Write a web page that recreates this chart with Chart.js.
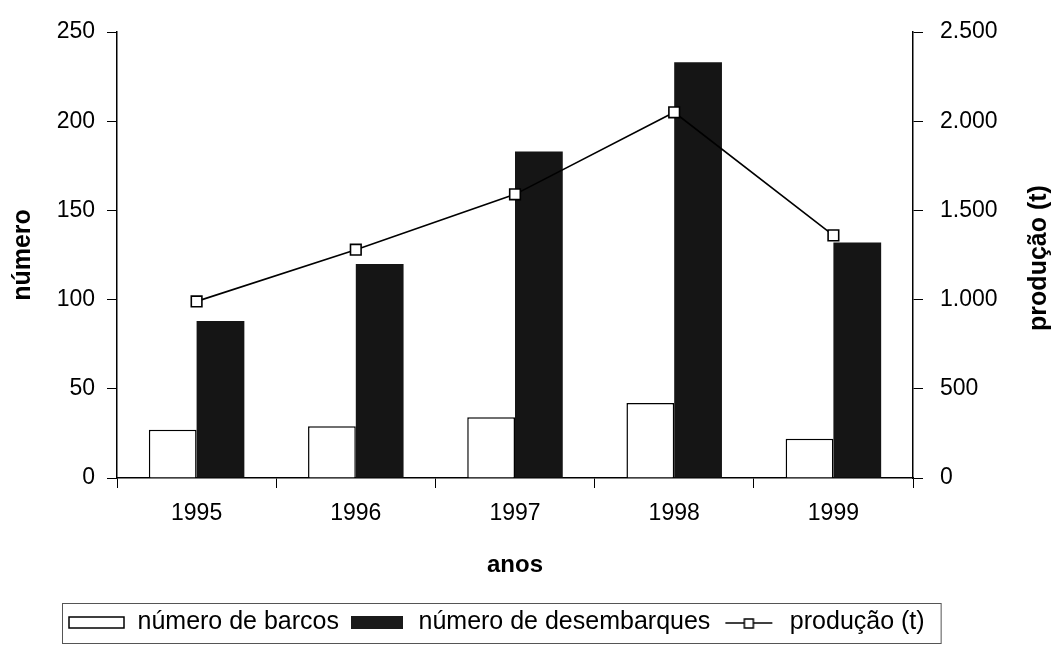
<!DOCTYPE html>
<html>
<head>
<meta charset="utf-8">
<script src="https://cdn.jsdelivr.net/npm/chart.js"></script>
<style>
  html, body { margin: 0; padding: 0; background: #fff; }
  #wrap { width: 1051px; height: 653px; }
</style>
</head>
<body>
<div id="wrap"><canvas id="c" width="1051" height="653"></canvas></div>
<script>
// dados
const anos = ['1995', '1996', '1997', '1998', '1999'];
const barcos = [27, 29, 34, 42, 22];
const desembarques = [88, 120, 183, 233, 132];
const producao = [990, 1280, 1590, 2050, 1360];

const FONT = 'Arial, "Liberation Sans", sans-serif';

// pequenos ícones para a legenda
function legendIcon(kind) {
    const cv = document.createElement('canvas');
    cv.width = 57; cv.height = 20;
    const g = cv.getContext('2d');
    g.lineWidth = 1.5;
    g.strokeStyle = '#000';
    if (kind === 'white') {
        g.fillStyle = '#fff';
        g.fillRect(1, 5, 55, 11);
        g.strokeRect(1, 5, 55, 11);
    } else if (kind === 'dark') {
        g.fillStyle = '#1a1a1a';
        g.fillRect(2, 4, 52, 13);
    } else {
        g.beginPath();
        g.moveTo(5, 11); g.lineTo(52, 11);
        g.stroke();
        g.fillStyle = '#fff';
        g.fillRect(24, 7, 9, 9);
        g.strokeRect(24, 7, 9, 9);
    }
    return cv;
}

// legenda deslocada para a esquerda + moldura + título do eixo direito (lido de baixo para cima)
const extras = {
    id: 'extras',
    afterLayout(chart) {
        const lg = chart.legend;
        if (!lg || !lg.lineWidths) return;
        const pad = lg.options.labels.padding;
        const start = (lg.left + pad + lg.right - lg.lineWidths[0]) / 2;
        const shift = 68 - start;
        lg.left += shift;
        lg.right += shift;
    },
    afterDraw(chart) {
        const ctx = chart.ctx;
        const boxes = chart.legend.legendHitBoxes;
        if (boxes && boxes.length) {
            let x0 = Infinity, x1 = -Infinity;
            boxes.forEach(b => {
                x0 = Math.min(x0, b.left); x1 = Math.max(x1, b.left + b.width);
            });
            ctx.save();
            ctx.strokeStyle = '#555';
            ctx.lineWidth = 1;
            ctx.strokeRect(x0 - 5.5, 603.5, (x1 - x0) + 22, 40);
            ctx.restore();
        }
        const area = chart.chartArea;
        ctx.save();
        ctx.translate(1039, (area.top + area.bottom) / 2 + 3);
        ctx.rotate(-Math.PI / 2);
        ctx.font = 'bold 25px ' + FONT;
        ctx.fillStyle = '#000';
        ctx.textAlign = 'center';
        ctx.textBaseline = 'middle';
        ctx.fillText('produção (t)', 0, 0);
        ctx.restore();
    }
};

const fmt = v => v.toString().replace(/\B(?=(\d{3})+(?!\d))/g, '.');

new Chart(document.getElementById('c'), {
    data: {
        labels: anos,
        datasets: [
            {
                type: 'line',
                label: 'produção (t)',
                data: producao,
                yAxisID: 'y1',
                borderColor: '#000',
                borderWidth: 1.6,
                pointStyle: 'rect',
                pointRadius: 7.5,
                pointBackgroundColor: '#fff',
                pointBorderColor: '#000',
                pointBorderWidth: 1.6,
                tension: 0,
                order: 0
            },
            {
                type: 'bar',
                label: 'número de barcos',
                data: barcos,
                yAxisID: 'y',
                backgroundColor: '#fff',
                borderColor: '#000',
                borderWidth: 1.5,
                categoryPercentage: 0.6,
                barPercentage: 1.0,
                order: 1
            },
            {
                type: 'bar',
                label: 'número de desembarques',
                data: desembarques,
                yAxisID: 'y',
                backgroundColor: '#151515',
                borderWidth: 0,
                categoryPercentage: 0.6,
                barPercentage: 1.0,
                order: 1
            }
        ]
    },
    options: {
        responsive: false,
        animation: false,
        layout: { padding: { top: 32, left: 4, right: 0, bottom: 8.5 } },
        plugins: {
            tooltip: { enabled: false },
            legend: {
                position: 'bottom',
                labels: {
                    color: '#000',
                    font: { family: FONT, size: 25 },
                    usePointStyle: true,
                    pointStyleWidth: 57,
                    padding: 10,
                    generateLabels(chart) {
                        const icons = [legendIcon('line'), legendIcon('white'), legendIcon('dark')];
                        const items = chart.data.datasets.map((ds, i) => ({
                            text: ds.label,
                            datasetIndex: i,
                            pointStyle: icons[i],
                            fillStyle: '#fff',
                            strokeStyle: '#000',
                            lineWidth: 0,
                            hidden: false
                        }));
                        return [items[1], items[2], items[0]];
                    }
                }
            }
        },
        scales: {
            x: {
                grid: { display: true, drawOnChartArea: false, tickLength: 10, color: '#000', offset: true },
                border: { display: true, color: '#000', width: 1.5 },
                ticks: { color: '#000', font: { family: FONT, size: 23 }, padding: 12 },
                title: {
                    display: true, text: 'anos', color: '#000',
                    font: { family: FONT, size: 24, weight: 'bold' },
                    padding: { top: 4, bottom: 20 }
                },
                afterFit(s) { s.height = 121.5; }
            },
            y: {
                position: 'left',
                min: 0, max: 250,
                ticks: { stepSize: 50, color: '#000', font: { family: FONT, size: 23 }, padding: 12 },
                grid: { drawOnChartArea: false, tickLength: 10, color: '#000' },
                border: { display: true, color: '#000', width: 1.5 },
                title: {
                    display: true, text: 'número', color: '#000',
                    font: { family: FONT, size: 25, weight: 'bold' },
                    padding: { top: 4, bottom: 4 }
                },
                afterFit(s) { s.width = 113; }
            },
            y1: {
                position: 'right',
                min: 0, max: 2500,
                ticks: {
                    stepSize: 500, color: '#000', font: { family: FONT, size: 23 }, padding: 17,
                    callback: v => fmt(v)
                },
                grid: { drawOnChartArea: false, tickLength: 10, color: '#000' },
                border: { display: true, color: '#000', width: 1.5 },
                title: { display: false },
                afterFit(s) { s.width = 138; }
            }
        }
    },
    plugins: [extras]
});
</script>
</body>
</html>
